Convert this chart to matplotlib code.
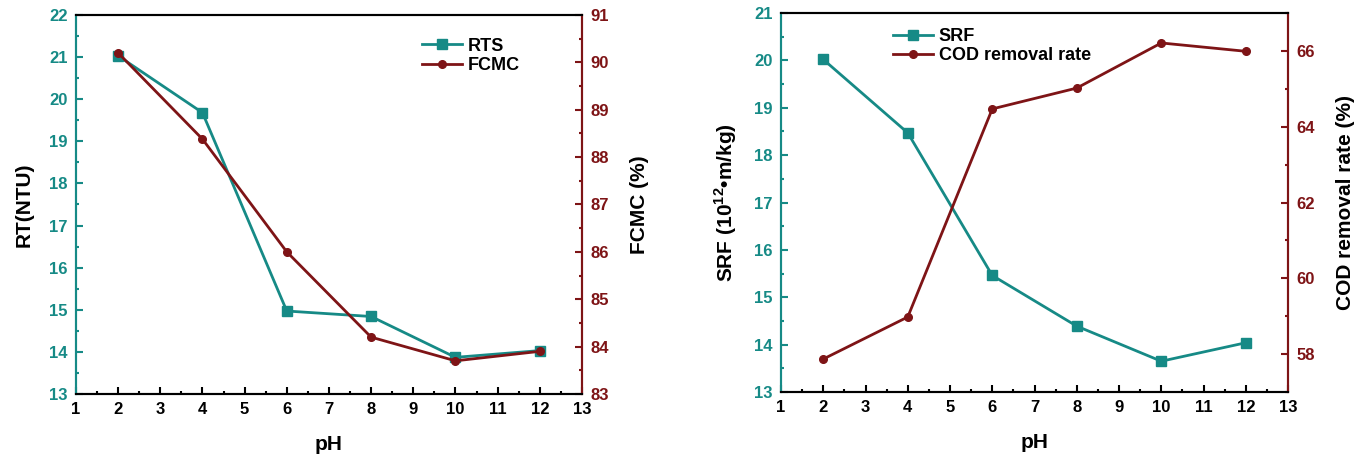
import matplotlib.pyplot as plt
from matplotlib.ticker import MultipleLocator

plt.rcParams['font.family'] = ['Liberation Sans', 'DejaVu Sans']
plt.rcParams['font.weight'] = 'bold'
plt.rcParams['mathtext.fontset'] = 'custom'
plt.rcParams['mathtext.bf'] = 'Liberation Sans:bold'
plt.rcParams['mathtext.rm'] = 'Liberation Sans:bold'

ph = [2, 4, 6, 8, 10, 12]
rts = [21.03, 19.68, 14.97, 14.84, 13.87, 14.03]
fcmc = [90.2, 88.38, 86.0, 84.2, 83.7, 83.9]
srf = [20.02, 18.47, 15.46, 14.39, 13.65, 14.04]
cod = [57.87, 58.98, 64.47, 65.02, 66.21, 65.99]

teal = '#168a86'
red = '#7e1416'


def make_panel(fig, rect, y1, y2, lab1, lab2, name1, name2,
               lim1, lim2, step2, minor2, legpos):
    ax = fig.add_axes(rect)
    ax2 = ax.twinx()
    l1, = ax.plot(ph, y1, color=teal, lw=2, marker='s', ms=7.5, label=name1)
    l2, = ax2.plot(ph, y2, color=red, lw=2, marker='o', ms=5.5, label=name2)
    ax.set_xlim(1, 13)
    ax.set_ylim(*lim1)
    ax2.set_ylim(*lim2)
    ax.xaxis.set_major_locator(MultipleLocator(1))
    ax.xaxis.set_minor_locator(MultipleLocator(0.5))
    ax.yaxis.set_major_locator(MultipleLocator(1))
    ax.yaxis.set_minor_locator(MultipleLocator(0.5))
    ax2.yaxis.set_major_locator(MultipleLocator(step2))
    ax2.yaxis.set_minor_locator(MultipleLocator(minor2))
    ax.tick_params(axis='x', which='both', direction='in', top=False,
                   labelsize=12, width=1.5, colors='black', pad=6)
    ax.tick_params(axis='y', which='both', direction='in', colors=teal,
                   labelsize=12, width=1.5, pad=6)
    ax2.tick_params(axis='y', which='both', direction='in', colors=red,
                    labelsize=12, width=1.5, pad=6)
    for a in (ax, ax2):
        a.tick_params(which='major', length=5)
        a.tick_params(which='minor', length=2.5)
        a.spines['left'].set_color(teal)
        a.spines['right'].set_color(red)
        a.spines['top'].set_color('black')
        a.spines['bottom'].set_color('black')
        for s in a.spines.values():
            s.set_linewidth(1.5)
    for t in ax.get_xticklabels() + ax.get_yticklabels() + ax2.get_yticklabels():
        t.set_fontweight('bold')
    ax.set_xlabel('pH', fontsize=15, fontweight='bold', labelpad=13)
    ax.set_ylabel(lab1, fontsize=15, fontweight='bold', labelpad=11)
    ax2.set_ylabel(lab2, fontsize=15, fontweight='bold', labelpad=15)
    ax2.legend(handles=[l1, l2], loc='upper left', bbox_to_anchor=legpos,
               frameon=False, fontsize=13, handlelength=2.2,
               handletextpad=0.33, borderaxespad=0, borderpad=0,
               labelspacing=0.12)
    return ax, ax2


fig = plt.figure(figsize=(13.59, 4.57), dpi=100)

make_panel(fig, [0.0559, 0.1379, 0.3723, 0.8293], rts, fcmc,
           'RT(NTU)', 'FCMC (%)', 'RTS', 'FCMC',
           (13, 22), (83, 91), 1, 0.5, (0.684, 0.94))
make_panel(fig, [0.5747, 0.1422, 0.3731, 0.8293], srf, cod,
           'SRF (10$^{\\mathbf{12}}$\u2022m/kg)', 'COD removal rate (%)',
           'SRF', 'COD removal rate',
           (13, 21), (57, 67), 2, 1, (0.221, 0.96))

fig.savefig('out.png', dpi=100)
